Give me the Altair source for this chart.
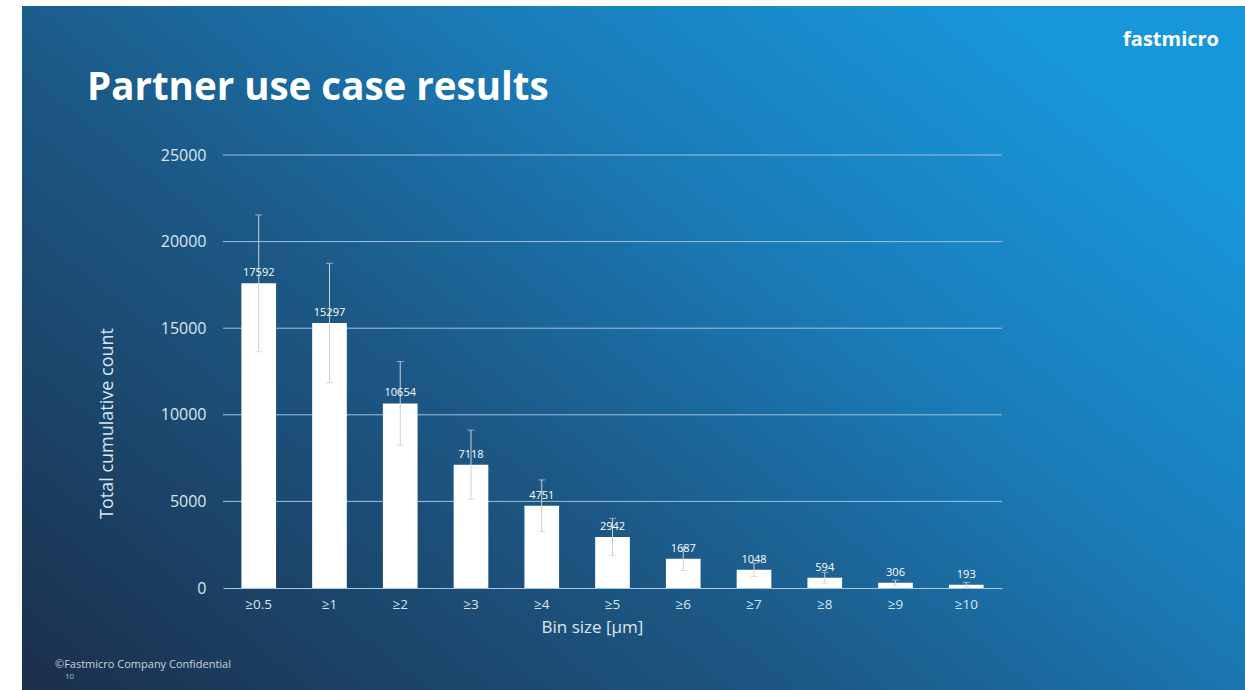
import altair as alt
import pandas as pd

bins = ["≥0.5", "≥1", "≥2", "≥3", "≥4", "≥5", "≥6", "≥7", "≥8", "≥9", "≥10"]
counts = [17592, 15297, 10654, 7118, 4751, 2942, 1687, 1048, 594, 306, 193]
errors = [3950, 3450, 2420, 2000, 1490, 1080, 680, 390, 310, 150, 130]
y_ticks = [5000, 10000, 15000, 20000, 25000]

df = pd.DataFrame({"bin": bins, "count": counts, "err": errors})
df["lo"] = df["count"] - df["err"]
df["hi"] = df["count"] + df["err"]
grid_df = pd.DataFrame({"v": y_ticks})

FONT = "Open Sans"
W, H = 779, 433
OX, OY = 223, 155  # plot origin within the 1245x690 page

x_enc = alt.X("bin:N", sort=bins,
              scale=alt.Scale(paddingInner=0.51, paddingOuter=0.26),
              axis=alt.Axis(title="Bin size [μm]", labelAngle=0, ticks=False,
                            labelPadding=9, titlePadding=9, labelFontSize=13.5,
                            titleFontSize=17, titleX=369, domainColor="#a9c9e2",
                            grid=False, zindex=1))
y_scale = alt.Scale(domain=[0, 25000], nice=False)
y_axis = alt.Axis(title="Total cumulative count", values=[0] + y_ticks, format="d",
                  domain=False, ticks=False, labelPadding=17, labelFontSize=16,
                  titleFontSize=18, titlePadding=44, titleY=268, grid=False, zindex=1)

base = alt.Chart(df)

bg = alt.Chart(pd.DataFrame({"k": [0]})).mark_rect(
    fill=alt.Gradient(
        gradient="linear",
        stops=[alt.GradientStop(color="#1b2f4b", offset=0),
               alt.GradientStop(color="#1c5a88", offset=0.45),
               alt.GradientStop(color="#1a7cb8", offset=0.72),
               alt.GradientStop(color="#1896da", offset=1)],
        x1=0, y1=1, x2=1, y2=0.3),
    stroke=None
).encode(x=alt.value(22 - OX), x2=alt.value(1245 - OX),
         y=alt.value(6 - OY), y2=alt.value(690 - OY))

grid = alt.Chart(grid_df).mark_rule(color="#9ec2de", strokeWidth=1).encode(
    y=alt.Y("v:Q", scale=y_scale), x=alt.value(0), x2=alt.value(W))

bars = base.mark_bar(color="white").encode(
    x=x_enc,
    y=alt.Y("count:Q", scale=y_scale, axis=y_axis),
)

err_rule = base.mark_rule(color="#cfcfcf", strokeWidth=1).encode(
    x=alt.X("bin:N", sort=bins), y=alt.Y("lo:Q", scale=y_scale), y2="hi:Q")
cap_lo = base.mark_tick(color="#cfcfcf", thickness=1, size=7).encode(
    x=alt.X("bin:N", sort=bins), y=alt.Y("lo:Q", scale=y_scale))
cap_hi = base.mark_tick(color="#cfcfcf", thickness=1, size=7).encode(
    x=alt.X("bin:N", sort=bins), y=alt.Y("hi:Q", scale=y_scale))

labels = base.mark_text(color="white", fontSize=11, font=FONT, dy=-7,
                        baseline="alphabetic").encode(
    x=alt.X("bin:N", sort=bins), y=alt.Y("count:Q", scale=y_scale),
    text=alt.Text("count:Q", format="d"))

one = pd.DataFrame({"k": [0]})
title = alt.Chart(one).mark_text(text="Partner use case results", font=FONT,
                                 fontSize=38.5, fontWeight="bold", color="white",
                                 align="left", baseline="alphabetic").encode(
    x=alt.value(87 - OX), y=alt.value(100 - OY))
logo = alt.Chart(one).mark_text(text="fastmicro", font=FONT, fontSize=20,
                                fontWeight="bold", color="white", align="right",
                                baseline="middle").encode(
    x=alt.value(1219 - OX), y=alt.value(40 - OY))
footer = alt.Chart(one).mark_text(text="©Fastmicro Company Confidential", font=FONT,
                                  fontSize=11, color="#c9d3dc", align="left",
                                  baseline="middle").encode(
    x=alt.value(55 - OX), y=alt.value(665 - OY))
page = alt.Chart(one).mark_text(text="10", font=FONT, fontSize=8, color="#a9b8c6",
                                align="left", baseline="middle").encode(
    x=alt.value(65 - OX), y=alt.value(677 - OY))

chart = alt.layer(bg, grid, bars, err_rule, cap_lo, cap_hi, labels, title, logo, footer, page).properties(
    width=W, height=H,
    padding={"left": OX, "top": OY, "right": 1245 - OX - W, "bottom": 690 - OY - H},
    autosize=alt.AutoSizeParams(type="none"),
).configure(background="white", font=FONT).configure_view(stroke=None).configure_axis(
    labelColor="#dce6ef", titleColor="#dce6ef", labelFont=FONT, titleFont=FONT,
    titleFontWeight="normal")

chart.save("out.html", embed_options={"renderer": "svg", "actions": False})
